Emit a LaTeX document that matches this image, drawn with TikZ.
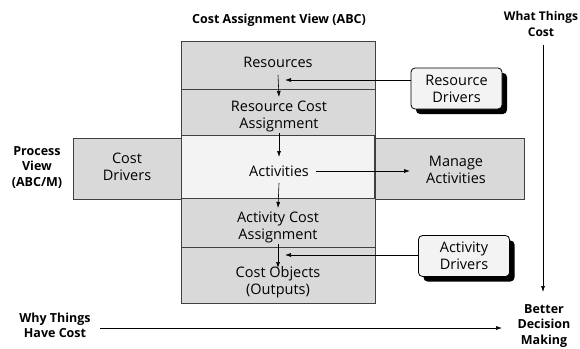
\documentclass[tikz,border=0pt]{standalone}
\usepackage{fontspec}
\setmainfont{Open Sans}
\usetikzlibrary{arrows.meta,shadows}
\definecolor{colgray}{HTML}{D9D9D9}
\definecolor{lightfill}{HTML}{F3F3F3}
\definecolor{edge}{HTML}{404040}
\tikzset{
  panel/.style={draw=edge, line width=0.8pt, fill=colgray, inner sep=0pt, outer sep=0pt},
  lightpanel/.style={draw=edge, line width=0.8pt, fill=lightfill, inner sep=0pt, outer sep=0pt},
  drvbox/.style={draw=black, line width=0.8pt, fill=lightfill, rounded corners=4pt, minimum width=91pt, minimum height=41pt,
     align=center, font=\fontsize{14.5}{17}\selectfont, inner sep=0pt,
     drop shadow={shadow xshift=5pt, shadow yshift=-5pt, fill=black, opacity=1}},
  txt/.style={align=center, font=\fontsize{14.5}{17}\selectfont, inner sep=0pt},
  ttl/.style={align=center, font=\bfseries\fontsize{12.5}{15.5}\selectfont, inner sep=0pt},
  arr/.style={draw=black, line width=0.6pt, -{Latex[length=6pt,width=4pt]}},
}
\begin{document}
\begin{tikzpicture}[x=1pt,y=-1pt]
\useasboundingbox (0,0) rectangle (580,348);
% shapes
\node[panel, minimum width=451pt, minimum height=61pt] (band) at (298.5,168.5) {};
\node[panel, minimum width=194pt, minimum height=262pt] (col) at (278,172) {};
\node[lightpanel, minimum width=193pt, minimum height=63pt] (actbox) at (277.5,166.5) {};
\draw[edge, line width=0.8pt] (col.west |- 0,89) -- (col.east |- 0,89);
\draw[edge, line width=0.8pt] (col.west |- 0,247) -- (col.east |- 0,247);
% texts
\node[ttl] (tcav) at (279,20) {Cost Assignment View (ABC)};
\node[ttl, font=\bfseries\fontsize{12}{15.5}\selectfont] (twtc) at (541,24) {What Things\\Cost};
\node[ttl] (tpv) at (37,167.5) {Process\\View\\(ABC/M)};
\node[ttl] (twhy) at (55,325.5) {Why Things\\Have Cost};
\node[ttl] (tbdm) at (544,326) {Better\\Decision\\Making};
\node[txt] (tres) at (278,62) {Resources};
\node[txt] (trca) at (279,116) {Resource Cost\\Assignment};
\node[txt] (tact) at (279,171) {Activities};
\node[txt] (taca) at (278,227) {Activity Cost\\Assignment};
\node[txt] (tco) at (278,282) {Cost Objects\\(Outputs)};
\node[txt] (tcd) at (127,166.5) {Cost\\Drivers};
\node[txt] (tma) at (456,169.5) {Manage\\Activities};
\node[drvbox] (rd) at (456.5,88.5) {Resource\\Drivers};
\node[drvbox] (ad) at (464,256) {Activity\\Drivers};
% free ends
\coordinate (rdend) at (285,80);
\coordinate (adend) at (285,255);
\coordinate (maend) at (410,171);
\coordinate (vtop) at (543,45);
\coordinate (vbot) at (543,292);
\coordinate (hstart) at (100,328);
\coordinate (hend) at (502,328);
% arrows
\draw[arr] ([yshift=-13pt]tres.center) -- ([yshift=19pt]trca.center);
\draw[arr] ([yshift=-17pt]trca.center) -- ([yshift=14pt]tact.center);
\draw[arr] ([yshift=-12pt]tact.center) -- ([yshift=19pt]taca.center);
\draw[arr] ([yshift=-17pt]taca.center) -- ([yshift=14pt]tco.center);
\draw[arr] ([xshift=37pt]tact.center) -- (maend);
\draw[arr] (rd.west |- rdend) -- (rdend);
\draw[arr] (ad.west |- adend) -- (adend);
\draw[arr] (vtop) -- (vbot);
\draw[arr] (hstart) -- (hend);
\end{tikzpicture}
\end{document}
